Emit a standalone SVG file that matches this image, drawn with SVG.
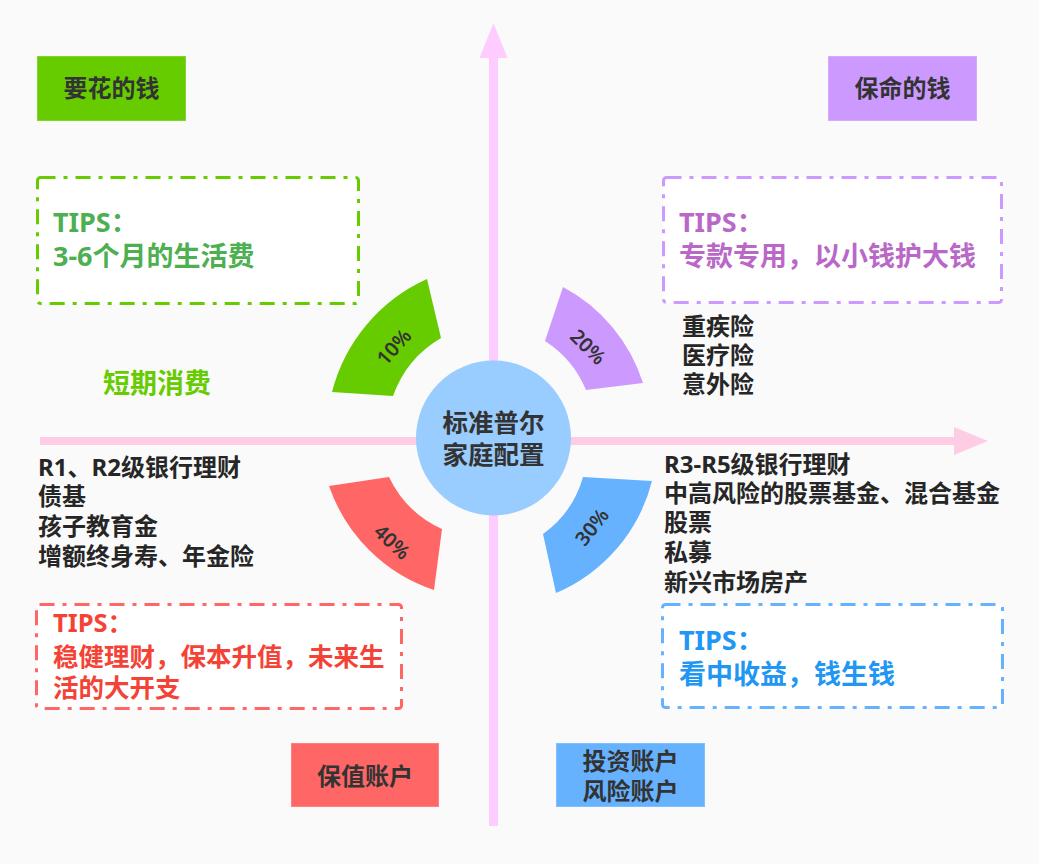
<svg xmlns="http://www.w3.org/2000/svg" width="1039" height="864" viewBox="0 0 1039 864">
<style>
text{font-family:'Noto Sans','Noto Sans CJK SC',sans-serif;font-weight:bold;fill:#333333}
.t24{font-size:24px}
.c{text-anchor:middle}
.lst{font-size:24px;fill:#262626}
.tip{font-size:27px}
.pct{font-size:20px;font-weight:600;text-anchor:middle;fill:#333333}
.dash{fill:#FFFFFF;stroke-width:3;stroke-dasharray:15 8 4 8}
</style>
<rect x="0" y="0" width="1039" height="864" fill="#FAFAFA"/>
<g id="connectors">
<rect x="489" y="56" width="9" height="770" fill="#FFCCFF"/>
<polygon points="479.5,58 507.5,58 493.5,23" fill="#FFCCFF"/>
<rect x="40" y="437" width="916" height="8" fill="#FFCCE5"/>
<polygon points="954,427 954,455 988,441" fill="#FFCCE5"/>
</g>
<g id="sector-10">
<path d="M332,392 A170,170 0 0 1 427,279 L441,338 A110,110 0 0 0 393,396 Z" fill="#66CC00"/>
<text class="pct" transform="translate(394,347) rotate(-48)" y="7">10%</text>
</g>
<g id="sector-20">
<path d="M563,287 A165,165 0 0 1 643,383 L586,390 A107,107 0 0 0 545,341 Z" fill="#CC99FF"/>
<text class="pct" transform="translate(588,347) rotate(45)" y="7">20%</text>
</g>
<g id="sector-40">
<path d="M434,590 A167,167 0 0 1 329,486 L389,477 A108,108 0 0 0 442,529 Z" fill="#FF6666"/>
<text class="pct" transform="translate(392,542) rotate(43)" y="7">40%</text>
</g>
<g id="sector-30">
<path d="M652,481 A166,166 0 0 1 556,593 L543,534 A105,105 0 0 0 583,477 Z" fill="#66B2FF"/>
<text class="pct" transform="translate(592,527) rotate(-52)" y="7">30%</text>
</g>
<g id="center">
<circle cx="493.5" cy="438" r="77.5" fill="#99CCFF"/>
<text class="c" x="493.5" y="432" font-size="25.5">标准普尔</text>
<text class="c" x="493.5" y="464" font-size="25.5">家庭配置</text>
</g>
<g id="spend-money">
<rect x="37.5" y="56.5" width="148" height="64" fill="#66CC00" stroke="#7FD633" stroke-width="1"/>
<text class="t24 c" x="111.5" y="97">要花的钱</text>
</g>
<g id="life-money">
<rect x="828.5" y="56.5" width="148" height="64" fill="#CC99FF" stroke="#D6A8FF" stroke-width="1"/>
<text class="t24 c" x="902.5" y="97">保命的钱</text>
</g>
<g id="value-account">
<rect x="291.5" y="743.5" width="147" height="63" fill="#FF6666" stroke="#FF7F7F" stroke-width="1"/>
<text class="t24 c" x="365" y="785">保值账户</text>
</g>
<g id="invest-account">
<rect x="556.5" y="743.5" width="148" height="63" fill="#66B2FF" stroke="#7FBFFF" stroke-width="1"/>
<text class="t24 c" x="630.5" y="770">投资账户</text>
<text class="t24 c" x="630.5" y="800">风险账户</text>
</g>
<g id="tips-green">
<rect class="dash" x="37.5" y="177.5" width="321" height="126" rx="3" stroke="#66CC00"/>
<text class="tip" x="53" y="232" style="fill:#4CAF50">TIPS：</text>
<text class="tip" x="53" y="266" style="fill:#4CAF50">3-6个月的生活费</text>
</g>
<g id="tips-purple">
<rect class="dash" x="663.5" y="177.5" width="338" height="125" rx="3" stroke="#CC99FF"/>
<text class="tip" x="679" y="232" style="fill:#BA68C8">TIPS：</text>
<text class="tip" x="679" y="266" style="fill:#BA68C8">专款专用，以小钱护大钱</text>
</g>
<g id="tips-red">
<rect class="dash" x="36.5" y="604.5" width="365" height="104" rx="3" stroke="#FF6666"/>
<text class="tip" x="53" y="632" font-size="25.5" style="fill:#F44336;font-size:25.5px">TIPS：</text>
<text class="tip" x="53" y="666" style="fill:#F44336;font-size:25.5px">稳健理财，保本升值，未来生</text>
<text class="tip" x="53" y="697" style="fill:#F44336;font-size:25.5px">活的大开支</text>
</g>
<g id="tips-blue">
<rect class="dash" x="662.5" y="604.5" width="340" height="103" rx="3" stroke="#66B2FF"/>
<text class="tip" x="679" y="650" style="fill:#2196F3">TIPS：</text>
<text class="tip" x="679" y="684" style="fill:#2196F3">看中收益，钱生钱</text>
</g>
<g id="short-term">
<text class="c" x="157" y="393" font-size="27" style="fill:#66CC00">短期消费</text>
</g>
<g id="list-insurance">
<text class="lst" x="682" y="335">重疾险</text>
<text class="lst" x="682" y="364">医疗险</text>
<text class="lst" x="682" y="393">意外险</text>
</g>
<g id="list-value">
<text class="lst" x="38" y="476">R1、R2级银行理财</text>
<text class="lst" x="38" y="505">债基</text>
<text class="lst" x="38" y="535">孩子教育金</text>
<text class="lst" x="38" y="565">增额终身寿、年金险</text>
</g>
<g id="list-invest">
<text class="lst" x="664" y="473">R3-R5级银行理财</text>
<text class="lst" x="664" y="502">中高风险的股票基金、混合基金</text>
<text class="lst" x="664" y="531">股票</text>
<text class="lst" x="664" y="561">私募</text>
<text class="lst" x="664" y="591">新兴市场房产</text>
</g>
</svg>
